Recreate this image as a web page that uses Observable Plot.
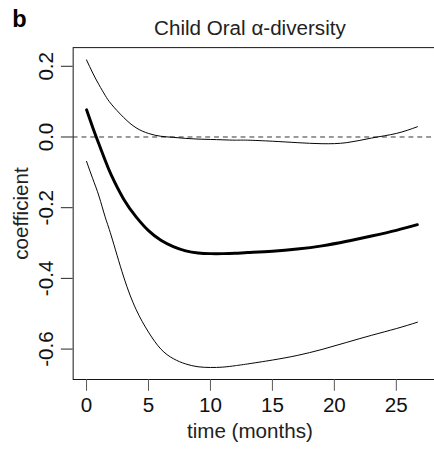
<!DOCTYPE html>
<html>
<head>
<meta charset="utf-8">
<script src="https://cdn.jsdelivr.net/npm/d3@7"></script>
<script src="https://cdn.jsdelivr.net/npm/@observablehq/plot@0.6"></script>
<style>
html, body { margin: 0; padding: 0; background: #fff; overflow: hidden; width: 434px; height: 449px; }
</style>
</head>
<body>
<div id="chart"></div>
<script>
const months   = [0, 0.5, 1, 1.5, 2, 3, 4, 5, 6, 7, 8, 9, 10, 11, 12, 13, 15, 17, 19, 21, 23, 25, 26.7];
const upper    = [0.218, 0.181, 0.148, 0.118, 0.093, 0.055, 0.026, 0.010, 0.002, -0.001, -0.004, -0.006, -0.007, -0.008, -0.009, -0.009, -0.012, -0.016, -0.019, -0.016, -0.003, 0.010, 0.029];
const estimate = [0.077, 0.027, -0.020, -0.066, -0.108, -0.176, -0.226, -0.265, -0.292, -0.310, -0.322, -0.328, -0.330, -0.330, -0.329, -0.327, -0.323, -0.317, -0.308, -0.295, -0.280, -0.264, -0.248];
const lower    = [-0.069, -0.118, -0.167, -0.226, -0.280, -0.396, -0.488, -0.552, -0.600, -0.627, -0.642, -0.650, -0.652, -0.651, -0.647, -0.642, -0.631, -0.618, -0.601, -0.581, -0.561, -0.542, -0.524];
const xTicks = [0, 5, 10, 15, 20, 25];
const yTicks = [-0.6, -0.4, -0.2, 0.0, 0.2];
const title = "Child Oral α-diversity";
const panel = "b";
const xLabel = "time (months)";
const yLabel = "coefficient";

const rows = (vals) => months.map((m, i) => ({m, v: vals[i]}));
const font = "'Liberation Sans', Arial, Helvetica, sans-serif";

const chart = Plot.plot({
  width: 442,
  height: 449,
  marginLeft: 74,
  marginRight: 0,
  marginTop: 48,
  marginBottom: 63,
  style: {fontFamily: font, fontSize: "21px", color: "#111", background: "#fff", overflow: "visible"},
  x: {domain: [-1.08, 28.08]},
  y: {domain: [-0.686, 0.2528]},
  marks: [
    Plot.frame({stroke: "#111", strokeWidth: 1}),
    Plot.ruleY([0], {stroke: "#333", strokeDasharray: "5,4", strokeWidth: 1}),
    Plot.line(rows(upper), {x: "m", y: "v", stroke: "#000", strokeWidth: 1, curve: "natural"}),
    Plot.line(rows(lower), {x: "m", y: "v", stroke: "#000", strokeWidth: 1, curve: "natural"}),
    Plot.line(rows(estimate), {x: "m", y: "v", stroke: "#000", strokeWidth: 3, curve: "natural"}),
    Plot.axisX(xTicks, {tickSize: 12, tickPadding: 6, fontSize: 21, stroke: "#555", label: null, tickFormat: d => String(d)}),
    Plot.axisY(yTicks, {tickSize: 12, stroke: "#222", label: null, tickFormat: () => ""}),
    Plot.text(yTicks, {y: d => d, text: d => d.toFixed(1), frameAnchor: "left", dx: -21, rotate: -90, lineAnchor: "bottom", textAnchor: "middle", fontSize: 21, fill: "#111"}),
    Plot.text([yLabel], {text: d => d, frameAnchor: "left", dx: -46, rotate: -90, lineAnchor: "bottom", textAnchor: "middle", fontSize: 21, fill: "#222"}),
    Plot.text([xLabel], {text: d => d, frameAnchor: "bottom", dx: -4, dy: 60, lineAnchor: "bottom", fontSize: 21, fill: "#222"}),
    Plot.text([title], {text: d => d, frameAnchor: "top", dx: -4, dy: -13, lineAnchor: "bottom", fontSize: 21, fill: "#222"}),
    Plot.text([panel], {text: d => d, frameAnchor: "top-left", dx: -62, dy: -21, lineAnchor: "bottom", textAnchor: "start", fontSize: 24, fontWeight: "bold", fill: "#000"})
  ]
});
document.getElementById("chart").appendChild(chart);
</script>
</body>
</html>
